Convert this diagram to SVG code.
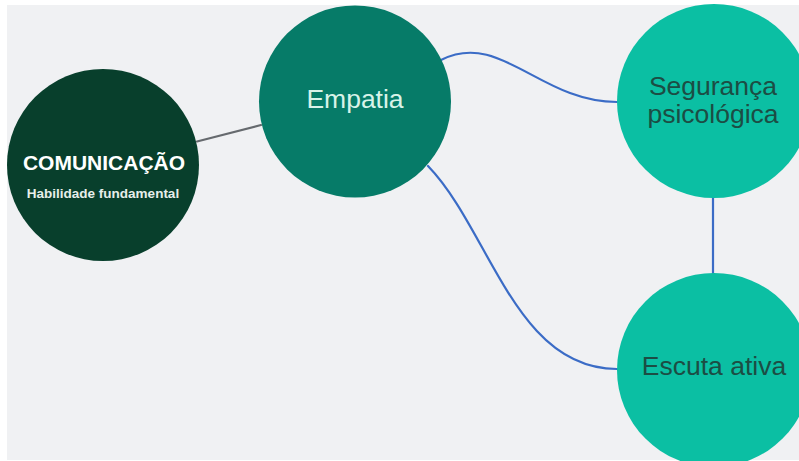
<svg xmlns="http://www.w3.org/2000/svg" width="799" height="461" viewBox="0 0 799 461">
<style>
.t{font-family:"Liberation Sans",Arial,sans-serif;text-anchor:middle}
.blue{fill:none;stroke:#3b6cc6;stroke-width:2.2;stroke-linecap:round}
.gray{fill:none;stroke:#666a6e;stroke-width:2.2;stroke-linecap:round}
.teal{fill:#0bbfa3}
.dark{fill:#1c4d44;font-size:26.5px}
</style>
<rect width="799" height="461" fill="#ffffff"/>
<rect x="7" y="5" width="792" height="455" fill="#f0f1f3"/>
<g id="connectors">
<path class="gray" d="M197,141.5 L261,125"/>
<path class="blue" d="M441,60 C500,30 540,102 617,102"/>
<path class="blue" d="M428,166 C490,230 515,369 617,369"/>
<path class="blue" d="M713,197 L713,274"/>
</g>
<g id="comunicacao">
<circle cx="103" cy="165" r="96" fill="#083f2c"/>
<text class="t" x="104" y="170" font-size="21" font-weight="bold" fill="#ffffff">COMUNICAÇÃO</text>
<text class="t" x="103" y="198" font-size="13.5" font-weight="bold" fill="#e6efea">Habilidade fundamental</text>
</g>
<g id="empatia">
<circle cx="355" cy="101.5" r="96" fill="#067b68"/>
<text class="t" x="355" y="108" font-size="26.5" fill="#d8f3e9">Empatia</text>
</g>
<g id="seguranca">
<circle class="teal" cx="714" cy="101" r="97"/>
<text class="t dark" x="713" y="95">Segurança</text>
<text class="t dark" x="713" y="123">psicológica</text>
</g>
<g id="escuta">
<circle class="teal" cx="714" cy="370" r="97"/>
<text class="t dark" x="714" y="375">Escuta ativa</text>
</g>
</svg>
